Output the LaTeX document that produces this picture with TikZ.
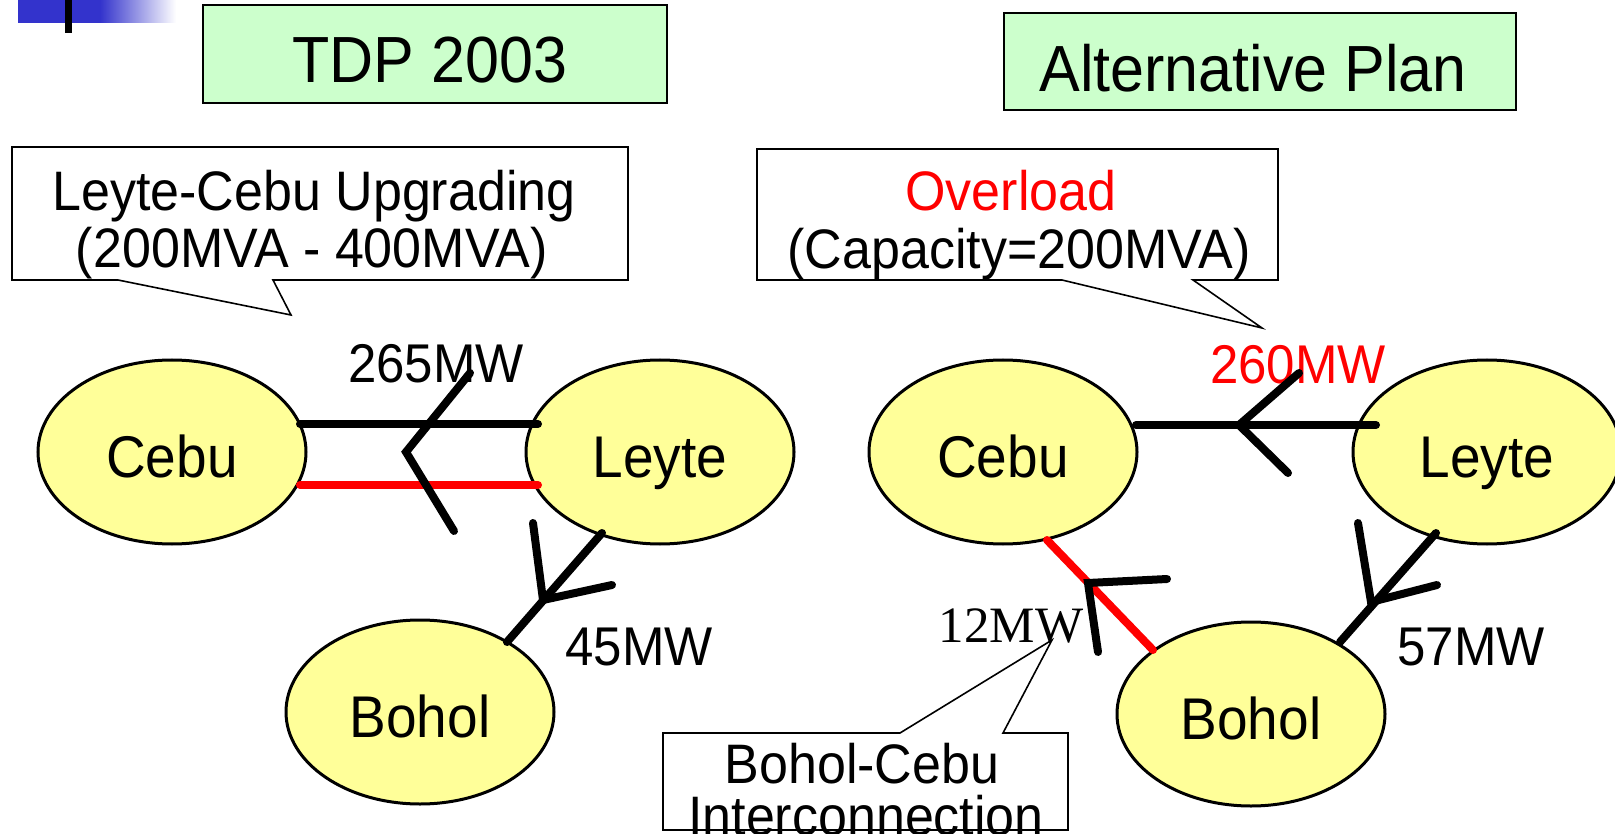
\documentclass[tikz,border=0pt]{standalone}
\usepackage{graphicx}
\usepackage{fontspec}
\setmainfont{Liberation Sans}
\newfontfamily\serifnum{Liberation Serif}
\usetikzlibrary{shapes.geometric,calc}
\definecolor{isle}{HTML}{FFFF99}
\definecolor{titlegreen}{HTML}{CCFFCC}
\definecolor{barblue}{HTML}{3333CC}
\definecolor{hot}{HTML}{FF0000}
\newcommand\tallstr[1]{\scalebox{1}[1.07]{#1}}
\begin{document}
\begin{tikzpicture}[x=1pt,y=-1pt,
  island/.style={ellipse,draw=black,line width=3pt,fill=isle,minimum width=268pt,minimum height=184pt,inner sep=0pt,text height=50pt,text depth=0pt,font=\fontsize{55}{60}\selectfont},
  titlebox/.style={draw=black,line width=2pt,fill=titlegreen,inner sep=0pt},
  titletext/.style={anchor=base,inner sep=0pt,font=\fontsize{61}{70}\selectfont},
  bubble/.style={draw=black,line width=1.6pt,fill=white,line join=miter},
  txt/.style={anchor=base,inner sep=0pt,font=\fontsize{52}{57}\selectfont},
  flowtxt/.style={anchor=base,inner sep=0pt,font=\fontsize{51}{57}\selectfont},
  wire/.style={line width=8pt,line cap=round},
  chev/.style={line width=8pt,line cap=round,line join=miter},
]
\useasboundingbox (0,0) rectangle (1615,834);
% header decoration
\fill[barblue] (18,0) rectangle (100,23);
\shade[left color=barblue,right color=white] (100,0) rectangle (176,23);
\fill[black] (65,0) rectangle (72,33);
% titles
\node[titlebox,minimum width=464pt,minimum height=98pt] (tdpbox) at (435,54) {};
\node[titletext] (tdp) at (430,83) {\tallstr{TDP 2003}};
\node[titlebox,minimum width=512pt,minimum height=97pt] (altbox) at (1260,61.5) {};
\node[titletext] (alt) at (1253,92) {\tallstr{Alternative Plan}};
% callouts
\draw[bubble] (12,147) -- (628,147) -- (628,280) -- (273,280) -- (291,315) -- (118,280) -- (12,280) -- cycle;
\node[txt] (up1) at (314,211) {\tallstr{Leyte-Cebu Upgrading}};
\node[txt] (up2) at (312,268) {\tallstr{(200MVA - 400MVA)}};
\draw[bubble] (757,149) -- (1278,149) -- (1278,280) -- (1193,280) -- (1262,328) -- (1062,280) -- (757,280) -- cycle;
\node[txt,text=hot] (ov1) at (1011,211) {\tallstr{Overload}};
\node[txt] (ov2) at (1019,269) {\tallstr{(Capacity=200MVA)}};
\draw[bubble] (663,733) -- (900,733) -- (1052,640) -- (1003,733) -- (1068,733) -- (1068,830) -- (663,830) -- cycle;
\node[txt] (bc1) at (862,783) {\tallstr{Bohol-Cebu}};
\node[txt] (bc2) at (866,835) {\tallstr{Interconnection}};
% islands
\node[island] (cebuL) at (172,452) {\tallstr{Cebu}};
\node[island] (leyteL) at (660,452) {\tallstr{Leyte}};
\node[island] (boholL) at (420,712) {\tallstr{Bohol}};
\node[island] (cebuR) at (1003,452) {\tallstr{Cebu}};
\node[island] (leyteR) at (1487,452) {\tallstr{Leyte}};
\node[island] (boholR) at (1251,714) {\tallstr{Bohol}};
% flow labels
\node[flowtxt] (f265) at (436,382) {\tallstr{265MW}};
\node[flowtxt] (f45) at (639,665) {\tallstr{45MW}};
\node[flowtxt,text=hot] (f260) at (1298,383) {\tallstr{260MW}};
\node[flowtxt] (f57) at (1471,665) {\tallstr{57MW}};
\node[flowtxt,font=\serifnum\fontsize{51}{57}\selectfont] (f12) at (1011,642) {12MW};
% lines
\draw[wire] ($(cebuL.center)+(128,-28)$) -- ($(leyteL.center)+(-122,-28)$);
\draw[wire,hot] ($(cebuL.center)+(128,33)$) -- ($(leyteL.center)+(-122,33)$);
\draw[wire] ($(leyteL.center)+(-58,81)$) -- ($(boholL.center)+(87,-70)$);
\draw[wire] ($(leyteR.center)+(-111,-27)$) -- ($(cebuR.center)+(133,-27)$);
\draw[wire] ($(leyteR.center)+(-51,81)$) -- ($(boholR.center)+(89,-72)$);
\draw[wire,hot] ($(boholR.center)+(-98,-64)$) -- ($(cebuR.center)+(44,88)$);
% flow direction chevrons
\draw[chev] (470,373) -- (406,452) -- (454,531);
\draw[chev] (533,523) -- (543,600) -- (612,585);
\draw[chev] (1299,373) -- (1239,425) -- (1288,473);
\draw[chev] (1358,523) -- (1371,602) -- (1437,585);
\draw[chev] (1167,579) -- (1088,583) -- (1098,652);
\end{tikzpicture}
\end{document}
